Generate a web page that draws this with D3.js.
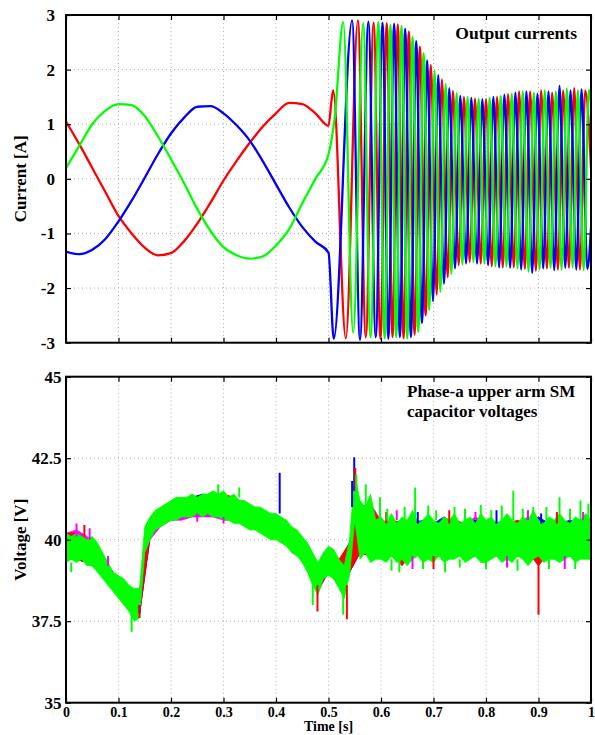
<!DOCTYPE html>
<html>
<head>
<meta charset="utf-8">
<script src="https://cdn.jsdelivr.net/npm/d3@7"></script>
<style>
body { margin: 0; background: #fff; }
svg text { font-family: "Liberation Serif", "Times New Roman", serif; font-weight: bold; }
</style>
</head>
<body>
<div class="home"></div>
<script>
// Two stacked panels: output currents (top) and SM capacitor voltages (bottom)

// ---- data ----
var xTicks = [0, 0.1, 0.2, 0.3, 0.4, 0.5, 0.6, 0.7, 0.8, 0.9, 1];
var curTicks = [-3, -2, -1, 0, 1, 2, 3];
var volTicks = [35, 37.5, 40, 42.5, 45];

// currents before the step, one value every 0.025 s from 0 to 0.5 s
var preT = d3.range(21).map(function (i) { return i * 0.025; });
var redPre = [1.05, 0.64, 0.2, -0.24, -0.68, -1.0, -1.26, -1.4, -1.36, -1.14, -0.82, -0.44, -0.03, 0.33, 0.66, 0.96, 1.2, 1.39, 1.37, 1.2, 0.97];
var greenPre = [0.2, 0.6, 1.0, 1.25, 1.37, 1.35, 1.15, 0.78, 0.36, -0.08, -0.55, -0.95, -1.25, -1.4, -1.46, -1.42, -1.22, -0.92, -0.45, 0.0, 0.45];
var bluePre = [-1.33, -1.38, -1.3, -1.1, -0.78, -0.4, 0.02, 0.45, 0.83, 1.12, 1.32, 1.33, 1.2, 0.98, 0.7, 0.32, -0.1, -0.52, -0.88, -1.15, -1.35];

// after 0.5 s: peaks and troughs [t, A] of each phase
var redPost = [[0.506, 1.45], [0.509, 1.62], [0.533, -2.92], [0.556, 2.9], [0.571, -2.9], [0.586, 2.86], [0.599, -2.93], [0.611, 2.85], [0.622, -2.9], [0.632, 2.83], [0.643, -2.92], [0.653, 2.7], [0.664, -2.85], [0.674, 2.42], [0.685, -2.5], [0.695, 2.08], [0.706, -2.12], [0.716, 1.82], [0.727, -1.8], [0.737, 1.61], [0.748, -1.58], [0.758, 1.5], [0.769, -1.52], [0.779, 1.47], [0.790, -1.55], [0.800, 1.46], [0.811, -1.6], [0.821, 1.5], [0.832, -1.62], [0.842, 1.55], [0.853, -1.62], [0.863, 1.6], [0.874, -1.65], [0.884, 1.6], [0.895, -1.68], [0.905, 1.62], [0.916, -1.64], [0.926, 1.58], [0.937, -1.66], [0.947, 1.62], [0.958, -1.63], [0.968, 1.66], [0.979, -1.66], [0.989, 1.62], [1.0, 0.2]];
var greenPost = [[0.512, 1.13], [0.528, 2.87], [0.547, -2.82], [0.566, 2.85], [0.580, -2.9], [0.595, 2.87], [0.607, -2.92], [0.618, 2.82], [0.629, -2.9], [0.639, 2.8], [0.650, -2.92], [0.660, 2.6], [0.671, -2.8], [0.681, 2.3], [0.692, -2.4], [0.702, 1.98], [0.713, -2.07], [0.723, 1.74], [0.734, -1.74], [0.744, 1.57], [0.755, -1.57], [0.765, 1.5], [0.776, -1.52], [0.786, 1.47], [0.797, -1.55], [0.807, 1.48], [0.818, -1.6], [0.828, 1.52], [0.839, -1.6], [0.849, 1.56], [0.860, -1.64], [0.870, 1.6], [0.881, -1.7], [0.891, 1.58], [0.902, -1.66], [0.912, 1.62], [0.923, -1.63], [0.933, 1.6], [0.944, -1.66], [0.954, 1.65], [0.965, -1.62], [0.975, 1.62], [0.986, -1.67], [0.996, 1.63], [1.0, 1.4]];
var bluePost = [[0.510, -2.93], [0.545, 2.9], [0.560, -2.95], [0.576, 2.88], [0.590, -2.9], [0.603, 2.86], [0.614, -2.93], [0.625, 2.84], [0.636, -2.9], [0.646, 2.75], [0.657, -2.9], [0.667, 2.52], [0.678, -2.64], [0.688, 2.17], [0.699, -2.24], [0.709, 1.9], [0.720, -1.92], [0.730, 1.66], [0.741, -1.64], [0.751, 1.52], [0.762, -1.55], [0.772, 1.48], [0.783, -1.55], [0.793, 1.46], [0.804, -1.58], [0.814, 1.5], [0.825, -1.62], [0.835, 1.54], [0.846, -1.63], [0.856, 1.58], [0.867, -1.66], [0.877, 1.6], [0.888, -1.72], [0.898, 1.56], [0.909, -1.64], [0.919, 1.6], [0.930, -1.67], [0.940, 1.7], [0.951, -1.63], [0.961, 1.62], [0.972, -1.66], [0.982, 1.64], [0.993, -1.65], [1.0, -0.9]];

// capacitor voltages: lower / upper edge of each noisy trace
var tGreen = d3.range(101).map(function (i) { return i / 100; });
var greenLo = [39.3, 39.4, 39.3, 39.4, 39.2, 39.2, 39.0, 38.8, 38.6, 38.4,
  38.2, 38.0, 37.8, 37.5, 37.6, 39.6, 40.0, 40.3, 40.4, 40.5,
  40.6, 40.6, 40.7, 40.7, 40.7, 40.8, 40.7, 40.8, 40.7, 40.7,
  40.6, 40.6, 40.5, 40.5, 40.4, 40.3, 40.3, 40.2, 40.1, 40.0,
  40.0, 39.9, 39.8, 39.6, 39.5, 39.3, 39.0, 38.6, 38.3, 38.8,
  38.9, 38.8, 38.5, 38.2, 38.9, 40.6, 39.4, 39.6, 39.3, 39.4,
  39.4, 39.3, 39.5, 39.3, 39.4, 39.2, 39.4, 39.5, 39.3, 39.4,
  39.3, 39.5, 39.3, 39.4, 39.4, 39.5, 39.3, 39.4, 39.5, 39.3,
  39.3, 39.4, 39.5, 39.3, 39.4, 39.3, 39.5, 39.4, 39.2, 39.4,
  39.5, 39.3, 39.4, 39.4, 39.3, 39.4, 39.5, 39.3, 39.4, 39.4, 39.4];
var greenHi = [40.2, 40.1, 40.2, 40.1, 40.0, 40.1, 39.9, 39.6, 39.3, 39.0,
  38.9, 38.8, 38.6, 38.5, 38.5, 40.4, 40.7, 40.9, 41.0, 41.1,
  41.2, 41.3, 41.3, 41.3, 41.4, 41.3, 41.4, 41.4, 41.5, 41.4,
  41.5, 41.3, 41.4, 41.2, 41.2, 41.1, 41.0, 41.0, 40.9, 40.8,
  40.8, 40.7, 40.6, 40.4, 40.3, 40.1, 39.9, 39.6, 39.3, 39.6,
  39.8, 39.7, 39.4, 39.2, 40.0, 42.0, 41.2, 41.0, 41.4, 40.6,
  40.7, 40.5, 40.8, 40.5, 40.7, 40.6, 40.9, 40.5, 40.6, 40.8,
  40.6, 40.5, 40.7, 40.6, 40.8, 40.5, 40.6, 40.7, 40.5, 40.8,
  40.6, 40.7, 40.5, 40.6, 40.8, 40.6, 40.5, 40.7, 40.6, 40.9,
  40.6, 40.5, 40.7, 40.6, 40.8, 40.6, 40.5, 40.7, 40.6, 40.8, 40.6];

var tOther = d3.range(51).map(function (i) { return i / 50; });
var redLo = [39.4, 39.4, 39.3, 39.1, 38.7, 38.3, 37.9, 37.7, 40.1, 40.5,
  40.7, 40.8, 40.8, 40.8, 40.8, 40.7, 40.6, 40.5, 40.4, 40.2,
  40.1, 39.9, 39.6, 39.1, 38.5, 39.0, 38.6, 39.0, 39.6, 39.5,
  39.5, 39.6, 39.2, 39.6, 39.5, 39.5, 39.6, 39.5, 39.5, 39.6,
  39.5, 39.6, 39.5, 39.5, 39.6, 39.2, 39.6, 39.5, 39.5, 39.6, 39.5];
var redHi = [40.2, 40.2, 40.0, 39.8, 39.2, 38.8, 38.5, 38.4, 40.6, 40.9,
  41.1, 41.2, 41.3, 41.3, 41.3, 41.4, 41.3, 41.1, 40.9, 40.8,
  40.7, 40.5, 40.2, 39.8, 39.2, 39.7, 39.4, 39.9, 41.0, 41.1,
  40.5, 40.5, 40.6, 40.5, 40.5, 40.4, 40.5, 40.6, 40.5, 40.5,
  40.5, 40.4, 40.5, 40.6, 40.5, 40.5, 40.4, 40.5, 40.5, 40.6, 40.5];
var magentaLo = [39.5, 39.4, 39.3, 39.1, 38.7, 38.3, 37.9, 37.7, 40.0, 40.4,
  40.6, 40.6, 40.7, 40.7, 40.7, 40.6, 40.6, 40.5, 40.4, 40.2,
  40.1, 39.9, 39.6, 39.1, 38.4, 39.0, 38.6, 39.0, 39.6, 39.5,
  39.6, 39.5, 39.5, 39.6, 39.5, 39.6, 39.5, 39.6, 39.5, 39.5,
  39.6, 39.5, 39.6, 39.5, 39.5, 39.6, 39.5, 39.5, 39.6, 39.5, 39.5];
var magentaHi = [40.2, 40.3, 40.1, 39.8, 39.2, 38.8, 38.5, 38.4, 40.6, 40.9,
  41.1, 41.2, 41.3, 41.3, 41.3, 41.3, 41.3, 41.1, 40.9, 40.8,
  40.7, 40.5, 40.2, 39.8, 39.2, 39.7, 39.3, 39.9, 41.0, 41.1,
  40.6, 40.5, 40.5, 40.7, 40.5, 40.5, 40.6, 40.5, 40.5, 40.7,
  40.5, 40.5, 40.6, 40.5, 40.7, 40.5, 40.5, 40.6, 40.5, 40.5, 40.6];
var blueLo = [39.5, 39.4, 39.3, 39.1, 38.7, 38.3, 37.9, 37.7, 40.1, 40.5,
  40.7, 40.8, 40.8, 40.8, 40.8, 40.7, 40.6, 40.5, 40.4, 40.2,
  40.1, 39.9, 39.6, 39.1, 38.5, 39.0, 38.6, 39.0, 39.6, 39.5,
  39.5, 39.6, 39.5, 39.5, 39.6, 39.5, 39.5, 39.6, 39.5, 39.5,
  39.6, 39.5, 39.5, 39.6, 39.5, 39.5, 39.6, 39.5, 39.5, 39.6, 39.5];
var blueHi = [40.2, 40.1, 40.0, 39.8, 39.2, 38.8, 38.5, 38.4, 40.6, 40.9,
  41.1, 41.2, 41.3, 41.4, 41.3, 41.3, 41.3, 41.1, 40.9, 40.8,
  40.7, 40.5, 40.2, 39.8, 39.2, 39.7, 39.3, 39.9, 41.0, 41.0,
  40.5, 40.6, 40.5, 40.5, 40.6, 40.5, 40.7, 40.5, 40.5, 40.6,
  40.5, 40.5, 40.6, 40.5, 40.5, 40.7, 40.5, 40.5, 40.6, 40.5, 40.5];

// isolated spikes [t, from V, to V]
var blueSpikes = [[0.407, 40.8, 42.05], [0.549, 41.5, 42.53], [0.545, 41.0, 41.8],
  [0.67, 40.5, 40.85], [0.82, 40.5, 40.9], [0.905, 40.5, 40.8], [0.14, 38.0, 37.75]];
var redSpikes = [[0.479, 38.6, 37.8], [0.535, 38.6, 37.56], [0.9, 39.4, 37.7], [0.551, 41.5, 42.2], [0.140, 38.0, 37.6],
  [0.035, 40.1, 40.45], [0.61, 40.5, 40.85], [0.73, 40.5, 40.9], [0.935, 40.5, 40.85], [0.7, 39.5, 39.1]];
var magentaSpikes = [[0.02, 40.1, 40.5], [0.045, 40.0, 40.35], [0.08, 39.2, 39.5], [0.25, 40.8, 40.55], [0.3, 40.7, 40.5],
  [0.63, 40.6, 40.9], [0.78, 40.6, 40.85], [0.88, 40.6, 40.9], [0.985, 40.6, 40.85],
  [0.66, 39.5, 39.1], [0.84, 39.5, 39.15], [0.95, 39.5, 39.1]];
var greenSpikes = [[0.125, 37.8, 37.18], [0.528, 38.5, 37.7], [0.553, 41.5, 42.0], [0.571, 40.8, 41.7], [0.598, 40.6, 41.3],
  [0.665, 40.6, 41.6], [0.79, 40.6, 41.07], [0.852, 40.6, 41.5], [0.94, 40.6, 41.3], [0.98, 40.6, 41.2],
  [0.47, 39.0, 38.0], [0.722, 39.4, 39.0], [0.635, 39.4, 39.0], [0.01, 39.3, 39.0], [0.29, 41.4, 41.7], [0.33, 41.3, 41.6],
  [0.612, 40.6, 40.95], [0.645, 40.6, 41.0], [0.69, 40.6, 41.05], [0.705, 40.6, 40.9], [0.74, 40.6, 41.0],
  [0.76, 40.6, 40.95], [0.81, 40.6, 40.9], [0.83, 40.6, 41.05], [0.87, 40.6, 40.95], [0.89, 40.6, 41.0],
  [0.915, 40.6, 41.0], [0.96, 40.6, 40.95], [0.995, 40.6, 41.1],
  [0.62, 39.4, 39.05], [0.68, 39.4, 39.1], [0.75, 39.4, 39.15], [0.8, 39.4, 39.1], [0.86, 39.4, 39.05],
  [0.92, 39.4, 39.1], [0.97, 39.4, 39.1]];

// ---- layout ----
var width = 595, height = 735;
var left = 66, right = 591;
var top1 = 15, bottom1 = 342.7;
var top2 = 376.7, bottom2 = 702.7;

var x = d3.scaleLinear().domain([0, 1]).range([left, right]);
var yCur = d3.scaleLinear().domain([-3, 3]).range([bottom1, top1]);
var yVol = d3.scaleLinear().domain([35, 45]).range([bottom2, top2]);

var svg = d3.select(".home").append("svg")
    .attr("width", width)
    .attr("height", height);

var defs = svg.append("defs");
defs.append("clipPath").attr("id", "clipTop").append("rect")
    .attr("x", left).attr("y", top1).attr("width", right - left).attr("height", bottom1 - top1);
defs.append("clipPath").attr("id", "clipBot").append("rect")
    .attr("x", left).attr("y", top2).attr("width", right - left).attr("height", bottom2 - top2);

// dotted grid
function grid(y, yGrid, y0, y1) {
    var g = svg.append("g").attr("stroke", "#b4b4b4").attr("stroke-width", 1).attr("stroke-dasharray", "1,3");
    g.selectAll(".vg").data(xTicks.slice(1, -1)).enter().append("line")
        .attr("x1", function (d) { return x(d); }).attr("x2", function (d) { return x(d); })
        .attr("y1", y0).attr("y2", y1);
    g.selectAll(".hg").data(yGrid).enter().append("line")
        .attr("x1", left).attr("x2", right)
        .attr("y1", function (d) { return y(d); }).attr("y2", function (d) { return y(d); });
}
grid(yCur, curTicks.slice(1, -1), top1, bottom1);
grid(yVol, volTicks.slice(1, -1), top2, bottom2);

// ---- currents ----
var curLine = d3.line()
    .x(function (d) { return x(d[0]); })
    .y(function (d) { return yCur(d[1]); })
    .curve(d3.curveMonotoneX);

function phase(pre, post) {
    return pre.map(function (v, i) { return [preT[i], v]; }).concat(post);
}

var phases = [
    { pts: phase(redPre, redPost), color: "#ff0000" },
    { pts: phase(bluePre, bluePost), color: "#0000ff" },
    { pts: phase(greenPre, greenPost), color: "#00ff00" }
];

svg.append("g").attr("clip-path", "url(#clipTop)")
    .selectAll("path").data(phases).enter().append("path")
    .attr("d", function (d) { return curLine(d.pts); })
    .attr("fill", "none")
    .attr("stroke", function (d) { return d.color; })
    .attr("stroke-width", 2.3)
    .attr("stroke-linejoin", "round");

// ---- capacitor voltages ----
var volArea = d3.area()
    .x(function (d) { return x(d[0]); })
    .y0(function (d) { return yVol(d[1]); })
    .y1(function (d) { return yVol(d[2]); });

function band(t, lo, hi) {
    return t.map(function (tt, i) { return [tt, lo[i], hi[i]]; });
}

var bands = [
    { pts: band(tOther, magentaLo, magentaHi), color: "#ff00ff" },
    { pts: band(tOther, blueLo, blueHi), color: "#0000ff" },
    { pts: band(tOther, redLo, redHi), color: "#ff0000" },
    { pts: band(tGreen, greenLo, greenHi), color: "#00ff00" }
];

var gv = svg.append("g").attr("clip-path", "url(#clipBot)");

var spikeSets = [[magentaSpikes, "#ff00ff"], [blueSpikes, "#0000ff"], [redSpikes, "#ff0000"], [greenSpikes, "#00ff00"]];
function drawSpikes(s) {
    gv.append("g").selectAll("line").data(s[0]).enter().append("line")
        .attr("x1", function (d) { return x(d[0]); }).attr("x2", function (d) { return x(d[0]); })
        .attr("y1", function (d) { return yVol(d[1]); }).attr("y2", function (d) { return yVol(d[2]); })
        .attr("stroke", s[1])
        .attr("stroke-width", 2);
}

gv.selectAll("path").data(bands).enter().append("path")
    .attr("d", function (d) { return volArea(d.pts); })
    .attr("fill", function (d) { return d.color; })
    .attr("stroke", function (d) { return d.color; })
    .attr("stroke-width", 0.8);

// spikes on top of the bands
spikeSets.forEach(drawSpikes);

// ---- axes: inward ticks on all sides, frame on top ----
function styleAxis(g, size) {
    g.attr("font-family", null).attr("font-size", size);
    g.select(".domain").remove();
    g.selectAll(".tick line").attr("stroke", "#000").attr("stroke-width", 1.2);
    g.selectAll(".tick text").attr("fill", "#000");
}

function frame(y, ticks, y0, y1, showX, labelPad) {
    var gb = svg.append("g").attr("transform", "translate(0," + y1 + ")")
        .call(d3.axisBottom(x).tickValues(xTicks).tickSize(-5).tickPadding(4.4)
            .tickFormat(showX ? function (d) { return String(d); } : ""));
    styleAxis(gb, 14);
    var gt = svg.append("g").attr("transform", "translate(0," + y0 + ")")
        .call(d3.axisTop(x).tickValues(xTicks).tickSize(-5).tickFormat(""));
    styleAxis(gt, 14);
    var gl = svg.append("g").attr("transform", "translate(" + left + ",0)")
        .call(d3.axisLeft(y).tickValues(ticks).tickSize(-5).tickPadding(labelPad)
            .tickFormat(function (d) { return String(d); }));
    styleAxis(gl, 17);
    var gr = svg.append("g").attr("transform", "translate(" + right + ",0)")
        .call(d3.axisRight(y).tickValues(ticks).tickSize(-5).tickFormat(""));
    styleAxis(gr, 17);
    svg.append("rect")
        .attr("x", left).attr("y", y0)
        .attr("width", right - left).attr("height", y1 - y0)
        .attr("fill", "none").attr("stroke", "#000").attr("stroke-width", 2);
}
frame(yCur, curTicks, top1, bottom1, false, 11);
frame(yVol, volTicks, top2, bottom2, true, 4.5);

// ---- texts ----
svg.append("text").attr("x", 577).attr("y", 39).attr("text-anchor", "end")
    .attr("font-size", 17.5).text("Output currents");
svg.append("text").attr("x", 407).attr("y", 397).attr("font-size", 17)
    .text("Phase-a upper arm SM");
svg.append("text").attr("x", 407).attr("y", 416.5).attr("font-size", 17)
    .text("capacitor voltages");

svg.append("text").attr("x", (left + right) / 2).attr("y", 731).attr("text-anchor", "middle")
    .attr("font-size", 14).text("Time [s]");
svg.append("text").attr("transform", "translate(26," + (top1 + bottom1) / 2 + ") rotate(-90)")
    .attr("text-anchor", "middle").attr("font-size", 17).text("Current [A]");
svg.append("text").attr("transform", "translate(26," + (top2 + bottom2) / 2 + ") rotate(-90)")
    .attr("text-anchor", "middle").attr("font-size", 17).text("Voltage [V]");
</script>
</body>
</html>
